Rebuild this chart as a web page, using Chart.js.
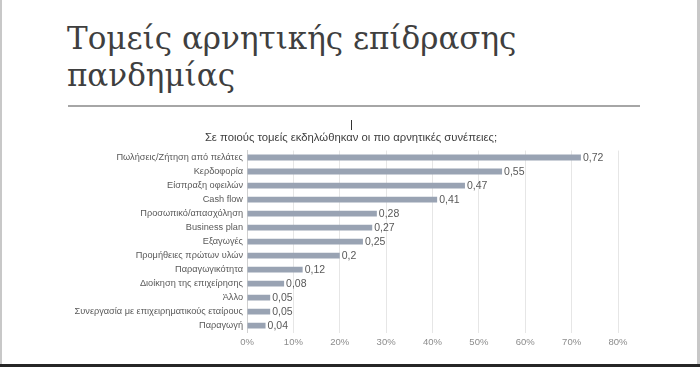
<!DOCTYPE html>
<html>
<head>
<meta charset="utf-8">
<script src="https://cdn.jsdelivr.net/npm/chart.js@4"></script>
<style>
  body { margin: 0; background: #fff; }
  #slide { position: relative; width: 700px; height: 367px; overflow: hidden; background: #fff; }
  #slide .edgeL { position: absolute; left: 0; top: 0; width: 2px; height: 364px; background: #c8c8c8; }
  #slide .edgeR { position: absolute; left: 697px; top: 0; width: 3px; height: 364px; background: #c8c8c8; }
  #slide .bottom { position: absolute; left: 0; top: 364px; width: 700px; height: 3px; background: #262626; }
  h1 { position: absolute; left: 67px; top: 20px; margin: 0; font-family: "DejaVu Serif", "Liberation Serif", serif;
       font-weight: normal; font-size: 31px; line-height: 37px; color: #3f3f3f; letter-spacing: 0; }
  .rule { position: absolute; left: 68px; top: 105px; width: 572px; height: 2px; background: #a6a6a6; }
  .cursor { position: absolute; left: 351px; top: 120px; width: 1px; height: 10px; background: #333; }
  #wrap { position: absolute; left: 0; top: 125px; width: 700px; height: 230px; }
</style>
</head>
<body>
<div id="slide">
  <div class="edgeL"></div>
  <div class="edgeR"></div>
  <div class="bottom"></div>
  <h1>Τομείς αρνητικής επίδρασης<br>πανδημίας</h1>
  <div class="rule"></div>
  <div id="wrap"><canvas id="myChart"></canvas></div>
  <div class="cursor"></div>
</div>
<script>
const categories = [
  'Πωλήσεις/Ζήτηση από πελάτες',
  'Κερδοφορία',
  'Είσπραξη οφειλών',
  'Cash flow',
  'Προσωπικό/απασχόληση',
  'Business plan',
  'Εξαγωγές',
  'Προμήθειες πρώτων υλών',
  'Παραγωγικότητα',
  'Διοίκηση της επιχείρησης',
  'Άλλο',
  'Συνεργασία με επιχειρηματικούς εταίρους',
  'Παραγωγή'
];
const values = [0.72, 0.55, 0.47, 0.41, 0.28, 0.27, 0.25, 0.2, 0.12, 0.08, 0.05, 0.05, 0.04];
const tickLabels = ['0%', '10%', '20%', '30%', '40%', '50%', '60%', '70%', '80%'];

// γράφει τις τιμές δίπλα στις μπάρες
const valueLabels = {
  id: 'valueLabels',
  afterDatasetsDraw(chart) {
    const c = chart.ctx;
    const meta = chart.getDatasetMeta(0);
    c.save();
    c.font = '10.5px "Liberation Sans", Arial, sans-serif';
    c.fillStyle = '#595959';
    c.textBaseline = 'middle';
    c.textAlign = 'left';
    meta.data.forEach(function (bar, i) {
      c.fillText(String(values[i]).replace('.', ','), bar.x + 2, bar.y + 0.5);
    });
    c.restore();
  }
};

const ctx = document.getElementById('myChart');

new Chart(ctx, {
  type: 'bar',
  data: {
    labels: categories,
    datasets: [{
      data: values,
      backgroundColor: '#99a3b3',
      barPercentage: 0.42,
      categoryPercentage: 1
    }]
  },
  plugins: [valueLabels],
  options: {
    indexAxis: 'y',
    responsive: true,
    maintainAspectRatio: false,
    animation: false,
    layout: { padding: { left: 2, right: 0, top: 0, bottom: 3 } },
    plugins: {
      legend: { display: false },
      tooltip: { enabled: false },
      title: {
        display: true,
        text: 'Σε ποιούς τομείς εκδηλώθηκαν οι πιο αρνητικές συνέπειες;',
        color: '#404040',
        font: { family: '"Liberation Sans", Arial, sans-serif', size: 11.3, weight: 'normal' },
        padding: { top: 6, bottom: 6 }
      }
    },
    scales: {
      x: {
        min: 0,
        max: 0.8,
        border: { display: false },
        grid: { color: '#e6e6e6', drawTicks: false },
        ticks: {
          stepSize: 0.1,
          padding: 4,
          color: '#8c8c8c',
          font: { family: '"Liberation Sans", Arial, sans-serif', size: 9.5 },
          callback: function (v, i) { return tickLabels[i]; }
        }
      },
      y: {
        border: { display: true, color: '#d0d0d0' },
        grid: { display: false, drawTicks: false },
        afterFit: function (scale) { scale.width = 245; },
        ticks: {
          padding: 4,
          color: '#595959',
          autoSkip: false,
          font: { family: '"Liberation Sans", Arial, sans-serif', size: 9.2 }
        }
      },
      // κενός άξονας δεξιά, μόνο για να κρατήσει χώρο
      yRight: {
        type: 'category',
        position: 'right',
        border: { display: false },
        grid: { display: false, drawTicks: false },
        ticks: { display: false },
        afterFit: function (scale) { scale.width = 82; }
      }
    }
  }
});
</script>
</body>
</html>
